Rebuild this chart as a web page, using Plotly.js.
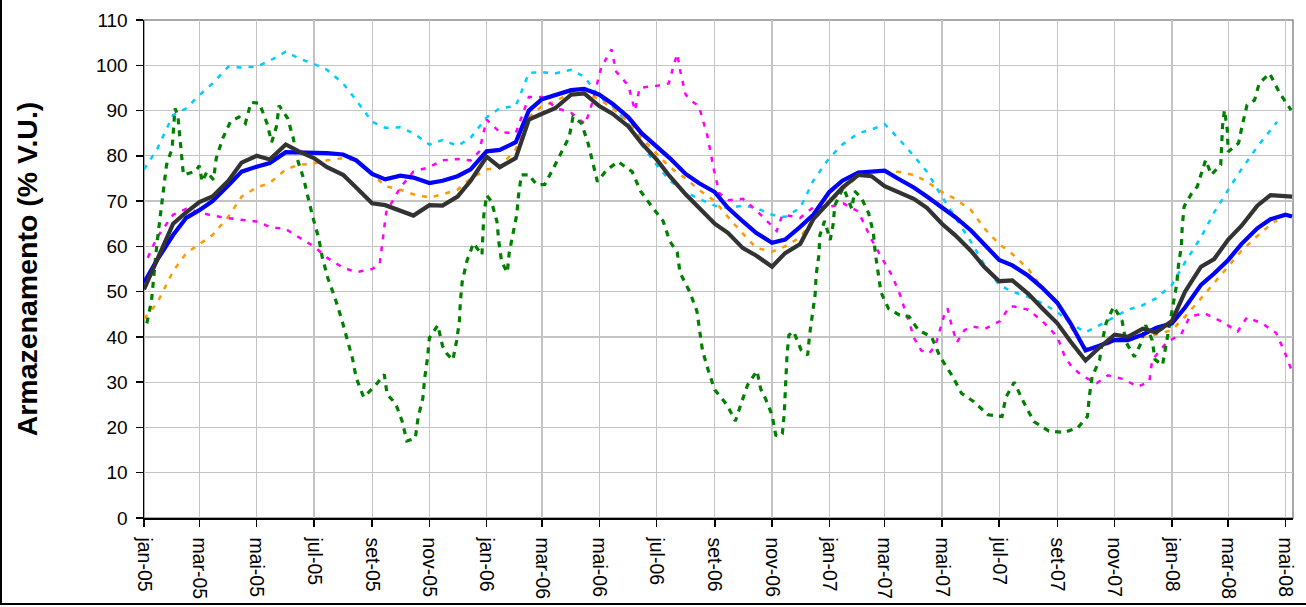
<!DOCTYPE html>
<html>
<head>
<meta charset="utf-8">
<script src="https://cdn.plot.ly/plotly-3.0.1.min.js"></script>
<style>
html,body{margin:0;padding:0;background:#fff;}
#wrap{position:relative;width:1306px;height:607px;overflow:hidden;}
#chart{width:1306px;height:607px;}
#frame{position:absolute;left:0;top:0;width:1304px;height:603px;border-left:2px solid #000;border-bottom:2px solid #000;pointer-events:none;}
</style>
</head>
<body>
<div id="wrap"><div id="chart"></div><div id="frame"></div></div>
<script>
// ---- x grid (half-month sampling) ----
const halfMonthDates = [
 '2005-01-01','2005-01-15','2005-02-01','2005-02-15','2005-03-01','2005-03-15','2005-04-01','2005-04-15',
 '2005-05-01','2005-05-15','2005-06-01','2005-06-15','2005-07-01','2005-07-15','2005-08-01','2005-08-15',
 '2005-09-01','2005-09-15','2005-10-01','2005-10-15','2005-11-01','2005-11-15','2005-12-01','2005-12-15',
 '2006-01-01','2006-01-15','2006-02-01','2006-02-15','2006-03-01','2006-03-15','2006-04-01','2006-04-15',
 '2006-05-01','2006-05-15','2006-06-01','2006-06-15','2006-07-01','2006-07-15','2006-08-01','2006-08-15',
 '2006-09-01','2006-09-15','2006-10-01','2006-10-15','2006-11-01','2006-11-15','2006-12-01','2006-12-15',
 '2007-01-01','2007-01-15','2007-02-01','2007-02-15','2007-03-01','2007-03-15','2007-04-01','2007-04-15',
 '2007-05-01','2007-05-15','2007-06-01','2007-06-15','2007-07-01','2007-07-15','2007-08-01','2007-08-15',
 '2007-09-01','2007-09-15','2007-10-01','2007-10-15','2007-11-01','2007-11-15','2007-12-01','2007-12-15',
 '2008-01-01','2008-01-15','2008-02-01','2008-02-15','2008-03-01','2008-03-15','2008-04-01','2008-04-15',
 '2008-05-01'
];
const lastDateLong = '2008-05-08';
const lastDateShort = '2008-04-22';

// ---- series values ----
const blueValues = [
 52,57,62.5,66.3,68,70,73.5,76.5,77.6,78.4,80.8,80.8,80.8,80.6,80.3,79,76,74.8,75.6,75.2,74,74.5,75.5,77,
 81,81.3,83,90,92.5,93.5,94.5,94.8,93.5,91.5,88.5,85,82,79.5,76,74,72,68.5,65.5,63,60.8,61.5,64.3,67,
 72,74.5,76.3,76.5,76.7,75,73,71,68.5,66.5,63.5,60.5,57,55.8,53.5,51,47.5,43,37,38,39.3,39.3,40.5,42,
 43,46.5,51.5,54,57,60.5,64,66,67,66.6
];
const grayValues = [
 50.5,57,65,67.5,69.8,71,74.5,78.5,80,79.2,82.5,81,79.5,77.5,75.8,73,69.5,69.1,68,66.8,69.1,69,71,74.5,
 79.8,77.5,79.5,88,89.3,90.5,93.5,93.8,91,89.3,86.5,82.8,79.2,75.5,71.5,68.5,65,63,59.6,58,55.5,58.5,60.5,66,
 70,73,75.8,75.5,73.3,72,70.5,68.5,65,62.5,59,55.5,52.3,52.5,49.5,46.5,43,39,34.8,37.5,40.5,40,41.8,41,
 43.5,50,55.5,57.2,61.5,64.5,69,71.3,71.2,71
];
const orangeValues = [
 44,47.5,54.5,58.5,60.5,62.5,66.6,71,73,74,77,78,78.3,79,79.5,79,76,73.3,72.5,71.5,70.8,71.5,72.5,75,
 77,77.5,81.5,88.5,91,92,94,94,92.5,90.5,87.5,84,80.5,77.5,75,72.5,70,66.5,62.8,59.7,58.8,60,62,66,
 69.5,72.5,75.5,76.5,76.5,76.5,75.8,74.3,72,70.5,68,64,60.5,58.3,55,51,47.8,42.2,37.5,37.5,39,39.3,40,40.5,
 41.5,44.5,48.5,52,55.5,59,62.3,64.8,65.7
];
const cyanValues = [
 77,81.5,89,90.5,93.4,96,99.7,99.5,99.7,101,103,101.5,100.3,99,96,92.3,87.5,86.2,86.3,85,82.5,83.5,82.2,84,
 88.5,90.5,91,98.3,98.5,98.2,99,97.5,93,91,87,82.5,78,74.5,72,70.5,69,68.5,69,68.5,67,66.5,68.5,74.5,
 79.5,82.5,85,85.8,87,84,80,76.5,71,66.5,61,56,51.5,50,48.8,47.5,45.5,43,41,42.5,44.5,46,47,48.5,
 51.5,56.5,62,67.5,72.5,77,82,85.5,87.5
];

const magentaDates = [
 '2005-01-05','2005-01-15','2005-02-01','2005-02-15','2005-03-01','2005-03-15','2005-04-01','2005-04-15',
 '2005-05-01','2005-05-15','2005-06-01','2005-06-15','2005-07-01','2005-07-15','2005-08-01','2005-08-15',
 '2005-09-01','2005-09-09','2005-09-16','2005-10-01','2005-10-15','2005-11-01','2005-11-15','2005-12-01',
 '2005-12-15','2005-12-24','2006-01-01','2006-01-15','2006-02-01','2006-02-15','2006-03-01','2006-03-17',
 '2006-04-01','2006-04-16','2006-04-24','2006-05-03','2006-05-14','2006-05-19','2006-06-01','2006-06-08',
 '2006-06-13','2006-07-02','2006-07-14','2006-07-20','2006-07-23','2006-07-27','2006-08-01','2006-08-08',
 '2006-08-15','2006-08-24','2006-08-31','2006-09-06','2006-09-16','2006-10-01','2006-10-15','2006-11-02',
 '2006-11-06','2006-11-12','2006-11-16','2006-12-01','2006-12-16','2007-01-01','2007-01-16','2007-02-01',
 '2007-02-15','2007-03-02','2007-03-09','2007-03-17','2007-03-24','2007-04-02','2007-04-09','2007-04-17',
 '2007-04-24','2007-05-03','2007-05-07','2007-05-12','2007-05-17','2007-05-25','2007-06-02','2007-06-16',
 '2007-07-02','2007-07-12','2007-07-17','2007-08-01','2007-08-16','2007-09-01','2007-09-09','2007-09-16',
 '2007-09-24','2007-10-01','2007-10-13','2007-10-25','2007-11-10','2007-11-26','2007-12-08','2007-12-11',
 '2007-12-27','2008-01-11','2008-01-20','2008-02-05','2008-02-23','2008-03-11','2008-03-21','2008-04-06',
 '2008-04-21','2008-04-30','2008-05-07'
];
const magentaValues = [
 57.5,62,67,68.3,67.5,66.8,66.2,65.8,
 65.5,64.3,63.8,62,60,57.5,55.3,54.3,
 55,56,67.5,73,76.5,77.5,79,79.3,
 79,80.9,88,85.2,85,93,93,90.5,
 89.5,87,92,99.5,103.5,98.6,95.5,90,
 95,95.5,96,100.5,102.5,98,93.5,92,
 91,84.6,77,71.7,70.2,70.5,68,64.3,
 63.4,66.9,66.9,66.3,68.8,68.7,69.5,67.7,
 61.5,56,53.5,49.5,45,39.5,37,36.3,
 38,44.5,46.3,42,38.8,41.5,42.3,41.8,
 43.5,46.7,46.7,46,43.5,40,35.6,33.5,
 32,31,29.8,31.5,30.7,29,30.2,34.9,
 38.9,40.6,44.5,45.2,43.4,41.2,44.3,43,
 40.9,36.7,32.9
];

const greenDates = [
 '2005-01-04','2005-01-09','2005-01-15','2005-01-20','2005-01-25','2005-01-31','2005-02-03','2005-02-06',
 '2005-02-09','2005-02-12','2005-02-24','2005-03-01','2005-03-04','2005-03-09','2005-03-16','2005-03-19',
 '2005-03-26','2005-04-03','2005-04-12','2005-04-19','2005-04-25','2005-05-04','2005-05-12','2005-05-17',
 '2005-05-22','2005-05-25','2005-06-03','2005-06-09','2005-06-13','2005-06-20','2005-06-25','2005-06-30',
 '2005-07-06','2005-07-10','2005-07-16','2005-07-23','2005-07-30','2005-08-05','2005-08-11','2005-08-15',
 '2005-08-23','2005-09-05','2005-09-14','2005-09-17','2005-09-26','2005-10-03','2005-10-08','2005-10-17',
 '2005-10-20','2005-10-25','2005-10-27','2005-10-30','2005-11-01','2005-11-10','2005-11-15','2005-11-20',
 '2005-11-26','2005-11-30','2005-12-03','2005-12-04','2005-12-06','2005-12-11','2005-12-18','2005-12-27',
 '2005-12-28','2005-12-29','2006-01-01','2006-01-06','2006-01-12','2006-01-14','2006-01-17','2006-01-23',
 '2006-01-25','2006-01-29','2006-02-02','2006-02-04','2006-02-07','2006-02-16','2006-02-19','2006-02-24',
 '2006-03-04','2006-03-13','2006-03-23','2006-03-30','2006-04-03','2006-04-12','2006-04-19','2006-04-24',
 '2006-04-29','2006-05-09','2006-05-21','2006-06-05','2006-06-14','2006-06-27','2006-07-08','2006-07-15',
 '2006-07-23','2006-07-26','2006-08-05','2006-08-13','2006-08-16','2006-08-19','2006-08-25','2006-09-01',
 '2006-09-14','2006-09-23','2006-09-29','2006-10-06','2006-10-16','2006-10-20','2006-10-25','2006-11-01',
 '2006-11-05','2006-11-09','2006-11-12','2006-11-14','2006-11-15','2006-11-16','2006-11-17','2006-11-19',
 '2006-11-24','2006-12-02','2006-12-09','2006-12-11','2006-12-14','2006-12-17','2006-12-18','2006-12-21',
 '2006-12-22','2006-12-27','2007-01-02','2007-01-05','2007-01-07','2007-01-12','2007-01-16','2007-01-25',
 '2007-01-28','2007-02-04','2007-02-12','2007-02-17','2007-02-19','2007-02-22','2007-02-25','2007-03-05',
 '2007-03-17','2007-03-27','2007-04-06','2007-04-20','2007-04-29','2007-05-12','2007-05-22','2007-06-04',
 '2007-06-19','2007-07-04','2007-07-08','2007-07-17','2007-07-27','2007-08-07','2007-08-23','2007-09-08',
 '2007-09-23','2007-10-03','2007-10-05','2007-10-08','2007-10-16','2007-10-19','2007-10-23','2007-10-31',
 '2007-11-09','2007-11-13','2007-11-22','2007-11-29','2007-12-04','2007-12-11','2007-12-14','2007-12-22',
 '2007-12-26','2008-01-02','2008-01-06','2008-01-08','2008-01-11','2008-01-12','2008-01-14','2008-01-22',
 '2008-01-28','2008-02-03','2008-02-06','2008-02-12','2008-02-22','2008-02-23','2008-02-24','2008-02-26',
 '2008-02-29','2008-03-01','2008-03-12','2008-03-16','2008-03-21','2008-03-29','2008-04-03','2008-04-14',
 '2008-04-25','2008-05-07'
];
const greenValues = [
 43,48,61,70,78,81.7,90.5,89,
 82,75.8,76.5,77.8,74.3,76.5,74.7,79.5,
 83.9,87.5,88.6,87.2,91.8,91.6,87.2,83,
 86.4,91.1,88.3,83.9,79.5,75,70.6,66.3,
 61.9,57.5,52.9,48.9,44.3,39.7,35.3,31,
 26.7,29.4,31.7,27.3,25.3,21.4,17,17.6,
 22.2,26.4,30.9,35.3,39.8,42.6,38,36.2,
 34.9,39.1,43.5,47.8,52.2,56.8,60.7,58.1,
 62.5,66.9,71.3,70,65.5,61,56.6,54.2,
 58.5,62.9,66.9,71.3,75.8,75.8,74.7,73.6,
 73.7,77.2,81.3,84.2,88.6,87.2,82.8,78.4,
 74.3,76.9,78.7,76.5,72.2,68.5,65.6,61.2,
 58.7,54.2,50.1,45.7,41.3,36.9,32.7,28.3,
 25,21.4,25.2,29.4,32.5,28.5,26.4,22.8,
 18.3,18,18.6,22.9,27.3,31.7,36,40.4,
 41.2,37.1,36,40.4,44.8,49.5,53.7,58.1,
 62.5,65.6,61.4,64.7,69.1,71.2,73,68.3,
 72.2,70.8,67.3,62.9,58.5,54.3,49.9,46.3,
 44.8,44.5,41.5,40,35.6,31.4,27.5,25.7,
 22.8,22.4,26.6,30,25.6,21.3,19.2,18.9,
 20,22.4,26.8,31.2,34.9,39.3,43.1,46.7,
 43.5,38.9,35.6,38.6,42.6,39.3,35,33.8,
 38.6,46.7,51.5,55.9,59.9,64.3,68.8,71.7,
 73.2,77.2,79.1,75.8,78,82.4,86.8,90.1,
 85.7,80.9,82.8,86.8,91.2,92.3,96,98.2,
 93.8,90.1
];

// ---- axis ticks ----
const tickDates = [
 '2005-01-01','2005-03-01','2005-05-01','2005-07-01','2005-09-01','2005-11-01',
 '2006-01-01','2006-03-01','2006-05-01','2006-07-01','2006-09-01','2006-11-01',
 '2007-01-01','2007-03-01','2007-05-01','2007-07-01','2007-09-01','2007-11-01',
 '2008-01-01','2008-03-01','2008-05-01'
];
const tickLabels = [
 'jan-05','mar-05','mai-05','jul-05','set-05','nov-05',
 'jan-06','mar-06','mai-06','jul-06','set-06','nov-06',
 'jan-07','mar-07','mai-07','jul-07','set-07','nov-07',
 'jan-08','mar-08','mai-08'
];
const yTitle = 'Armazenamento (% V.U.)';

const longDates = halfMonthDates.concat([lastDateLong]);
const shortDates = halfMonthDates.slice(0, 80).concat([lastDateShort]);

const traces = [
 {x: shortDates, y: cyanValues, mode:'lines', line:{color:'#00CCFF', width:2.5, dash:'5px,7px'}},
 {x: shortDates, y: orangeValues, mode:'lines', line:{color:'#FF9900', width:2.5, dash:'5px,7px'}},
 {x: magentaDates, y: magentaValues, mode:'lines', line:{color:'#FF00FF', width:2.5, dash:'5px,7px'}},
 {x: greenDates, y: greenValues, mode:'lines', line:{color:'#008000', width:3.2, dash:'6px,6px'}},
 {x: longDates, y: blueValues, mode:'lines', line:{color:'#0000FF', width:4.2}},
 {x: longDates, y: grayValues, mode:'lines', line:{color:'#333333', width:4.2}}
];

const FONT = '"Liberation Sans", Arial, sans-serif';
const layout = {
 width: 1306, height: 607,
 margin: {l:144, r:13, t:20, b:89, pad:0},
 paper_bgcolor:'#ffffff', plot_bgcolor:'#ffffff',
 font: {family: FONT, color:'#000', size:19},
 showlegend: false,
 xaxis: {
  type:'date', range:['2005-01-01','2008-05-09'], fixedrange:true,
  tickmode:'array', tickvals: tickDates, ticktext: tickLabels, tickangle:90,
  ticks:'outside', ticklen:7, tickwidth:1.5, tickcolor:'#000',
  tickfont:{family:FONT, size:19.5, color:'#000'}, ticklabelstandoff:7,
  showgrid:true, gridcolor:'#C4C4C4', gridwidth:1.2,
  showline:true, linecolor:'#000', linewidth:1.5, zeroline:false
 },
 yaxis: {
  range:[0,110], tick0:0, dtick:10, fixedrange:true,
  ticks:'outside', ticklen:7, tickwidth:1.5, tickcolor:'#000',
  tickfont:{family:FONT, size:19, color:'#000'}, ticklabelstandoff:4,
  showgrid:true, gridcolor:'#C4C4C4', gridwidth:1.2,
  showline:true, linecolor:'#000', linewidth:1.5, zeroline:false,
  title:{text:'<b>'+yTitle+'</b>', font:{family:FONT, size:28.5, color:'#000'}, standoff:50}
 },
 shapes: [
  {type:'rect', xref:'paper', yref:'paper', x0:0, x1:1, y0:0, y1:1,
   line:{color:'#8C8C8C', width:1.5}, layer:'below'}
 ]
};

Plotly.newPlot('chart', traces, layout, {staticPlot:true, displayModeBar:false});
</script>
</body>
</html>
